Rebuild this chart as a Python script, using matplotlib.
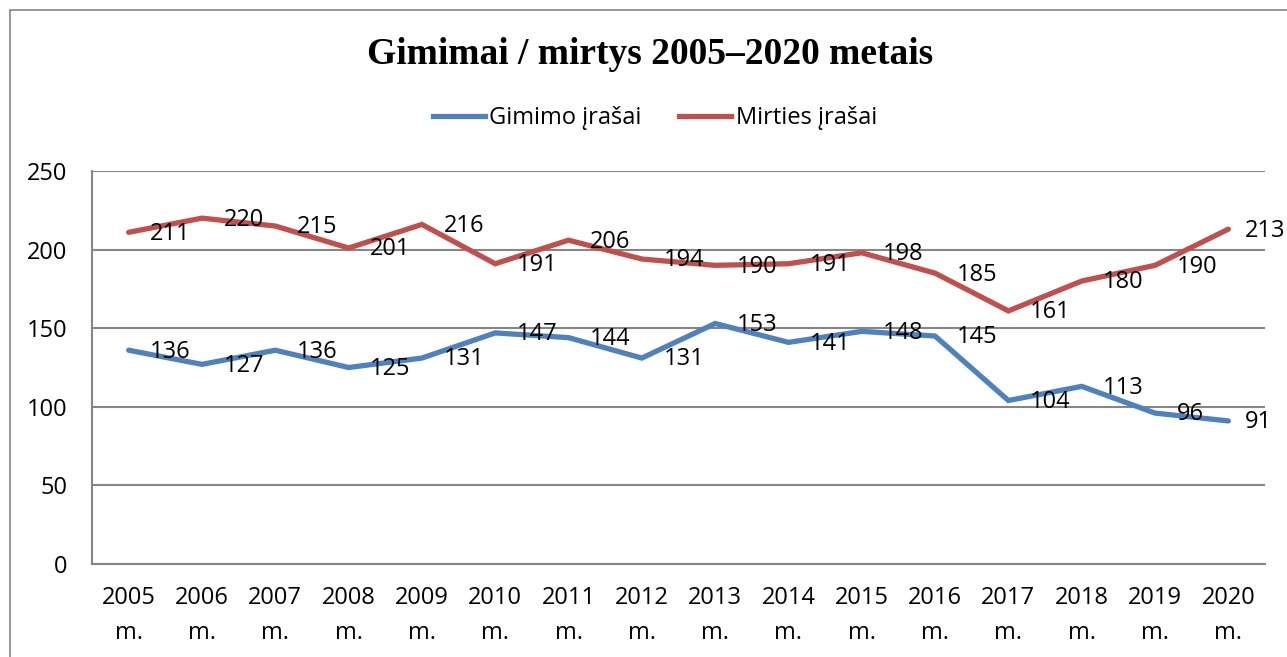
import matplotlib
matplotlib.use("Agg")
import matplotlib.pyplot as plt
from matplotlib.lines import Line2D
from matplotlib.patches import Rectangle

# data
years = ["2005", "2006", "2007", "2008", "2009", "2010", "2011", "2012",
         "2013", "2014", "2015", "2016", "2017", "2018", "2019", "2020"]
births = [136, 127, 136, 125, 131, 147, 144, 131, 153, 141, 148, 145, 104, 113, 96, 91]
deaths = [211, 220, 215, 201, 216, 191, 206, 194, 190, 191, 198, 185, 161, 180, 190, 213]
yticks = [0, 50, 100, 150, 200, 250]

blue = "#4F81BD"
red = "#C0504D"
grid = "#868686"
fs = 17

plt.rcParams['font.family'] = ['Open Sans', 'DejaVu Sans']

fig = plt.figure(figsize=(12.87, 6.57), dpi=100)
ax = fig.add_axes([92/1287, 93/657, (1265-92)/1287, (564-171)/657])

# outer chart frame
fig.patches.append(Rectangle((10/1287, -0.1), 1.2, (647/657)+0.1, transform=fig.transFigure,
                             fill=False, edgecolor=grid, lw=1.2))

x = list(range(len(years)))
ax.plot(x, births, color=blue, lw=3.8, solid_capstyle='round', solid_joinstyle='miter', zorder=3)
ax.plot(x, deaths, color=red, lw=3.8, solid_capstyle='round', solid_joinstyle='miter', zorder=3)

last = len(years) - 1
for series in (births, deaths):
    for xi, v in zip(x, series):
        dx = 12 if xi == last else 15.5
        ax.annotate(str(v), (xi, v), xytext=(dx, -1), textcoords='offset points',
                    ha='left', va='center', fontsize=fs, zorder=4)

ax.set_xlim(-0.5, len(years) - 0.5)
ax.set_ylim(0, 250)
ax.set_yticks(yticks)
ax.set_yticklabels([str(t) for t in yticks], fontsize=fs)
ax.set_xticks(x)
ax.set_xticklabels([y + "\nm." for y in years], fontsize=fs, linespacing=1.6)
ax.tick_params(axis='both', length=0)
ax.tick_params(axis='y', pad=18)
ax.tick_params(axis='x', pad=16)
ax.yaxis.grid(True, color=grid, lw=1.5)
ax.set_axisbelow(True)
for s in ['top', 'right']:
    ax.spines[s].set_visible(False)
ax.spines['left'].set_color(grid)
ax.spines['left'].set_linewidth(1.5)
ax.spines['bottom'].set_color(grid)
ax.spines['bottom'].set_linewidth(1.5)

fig.text(650/1287, 1 - 54/657, "Gimimai / mirtys 2005–2020 metais", ha='center', va='center',
         fontsize=27, fontweight='bold', family='Liberation Serif')

handles = [Line2D([], [], color=blue, lw=3.8), Line2D([], [], color=red, lw=3.8)]
fig.legend(handles, ["Gimimo įrašai", "Mirties įrašai"], loc='center',
           bbox_to_anchor=(655/1287, 1 - 118/657), ncol=2, frameon=False, fontsize=fs,
           handlelength=2.2, handletextpad=0.2, columnspacing=1.6)

fig.savefig("out.png", dpi=100)
